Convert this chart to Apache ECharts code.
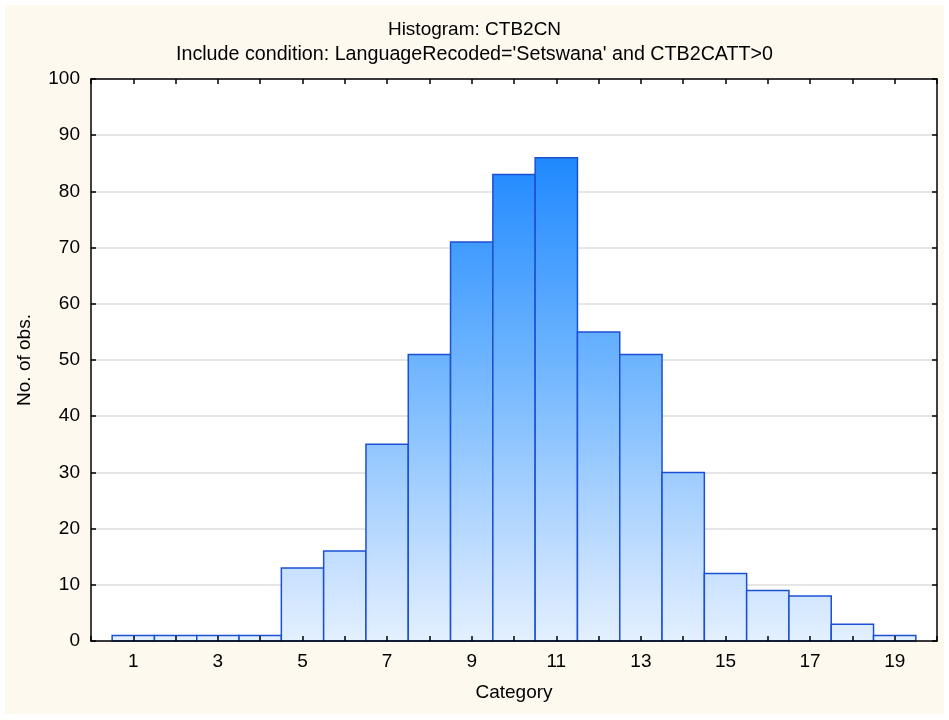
<!DOCTYPE html>
<html>
<head>
<meta charset="utf-8">
<script src="https://cdn.jsdelivr.net/npm/echarts@6/dist/echarts.min.js"></script>
<style>
html,body{margin:0;padding:0;background:#fff;}
#wrap{position:relative;width:949px;height:720px;background:#fff;}
#bg{position:absolute;left:5px;top:5px;width:939px;height:709px;background:#fdf9ee;}
#chart{position:absolute;left:0;top:0;width:949px;height:720px;}
</style>
</head>
<body>
<div id="wrap"><div id="bg"></div><div id="chart"></div></div>
<script>
var categories = [1,2,3,4,5,6,7,8,9,10,11,12,13,14,15,16,17,18,19];
var counts = [1,1,1,1,13,16,35,51,71,83,86,55,51,30,12,9,8,3,1];
var xTickLabels = [1,3,5,7,9,11,13,15,17,19];
var titleText = 'Histogram: CTB2CN';
var subtitleText = "Include condition: LanguageRecoded='Setswana' and CTB2CATT>0";

var FONT = '"Liberation Sans", Arial, sans-serif';
var FS = 19;
var data = categories.map(function(c,i){ return [c, counts[i]]; });

var chart = echarts.init(document.getElementById('chart'), null, {renderer:'canvas'});
var axisLine = {show:true, onZero:false, lineStyle:{color:'#000', width:1.5}};
var tick = {show:true, inside:true, length:5, lineStyle:{color:'#000', width:1.5}};
chart.setOption({
  backgroundColor: 'transparent',
  animation: false,
  title: [
    {text: titleText, left:'center', top:15, textStyle:{fontFamily:FONT, fontSize:FS, fontWeight:'normal', color:'#000'}},
    {text: subtitleText, left:'center', top:40, textStyle:{fontFamily:FONT, fontSize:19.7, fontWeight:'normal', color:'#000'}}
  ],
  grid: {left:91, right:12, top:79, bottom:79, show:true, backgroundColor:'#fff', borderWidth:0},
  xAxis: [
    {type:'value', min:0, max:20, interval:1, position:'bottom', z:10,
     name:'Category', nameLocation:'middle', nameGap:42,
     nameTextStyle:{fontFamily:FONT, fontSize:FS, color:'#000'},
     axisLine: axisLine, axisTick: tick,
     axisLabel:{fontFamily:FONT, fontSize:FS, color:'#000', margin:11,
       formatter:function(v){ return xTickLabels.indexOf(v) >= 0 ? String(v) : ''; }},
     splitLine:{show:false}},
    {type:'value', min:0, max:20, interval:1, position:'top', z:10,
     axisLine: axisLine, axisTick: tick,
     axisLabel:{show:false}, splitLine:{show:false}}
  ],
  yAxis: [
    {type:'value', min:0, max:100, interval:10, position:'left',
     name:'No. of obs.', nameLocation:'middle', nameGap:57,
     nameTextStyle:{fontFamily:FONT, fontSize:FS, color:'#000'},
     axisLine: axisLine, axisTick: tick,
     axisLabel:{fontFamily:FONT, fontSize:FS, color:'#000', margin:11},
     splitLine:{show:true, lineStyle:{color:'#dedede', width:1.5}}},
    {type:'value', min:0, max:100, interval:10, position:'right', z:10,
     axisLine: axisLine, axisTick: tick,
     axisLabel:{show:false}, splitLine:{show:false}}
  ],
  series: [{
    type:'custom',
    xAxisIndex:0, yAxisIndex:0,
    data: data,
    z: 3,
    encode:{x:0, y:1},
    renderItem: function(params, api){
      var x = api.value(0), y = api.value(1);
      var p0 = api.coord([x-0.5, y]);
      var p1 = api.coord([x+0.5, 0]);
      var gTop = api.coord([0, 100])[1];
      var gBot = api.coord([0, 0])[1];
      var grad = new echarts.graphic.LinearGradient(0, gTop, 0, gBot, [
        {offset:0, color:'#0f7cff'},
        {offset:0.14, color:'#2089ff'},
        {offset:0.5, color:'#6db4ff'},
        {offset:0.87, color:'#c6e0ff'},
        {offset:1, color:'#e3f0ff'}
      ], true);
      return {
        type:'rect',
        shape:{x:p0[0], y:p0[1], width:p1[0]-p0[0], height:p1[1]-p0[1]},
        style:{fill:grad, stroke:'#1c50d4', lineWidth:1.5}
      };
    }
  }]
});
</script>
</body>
</html>
